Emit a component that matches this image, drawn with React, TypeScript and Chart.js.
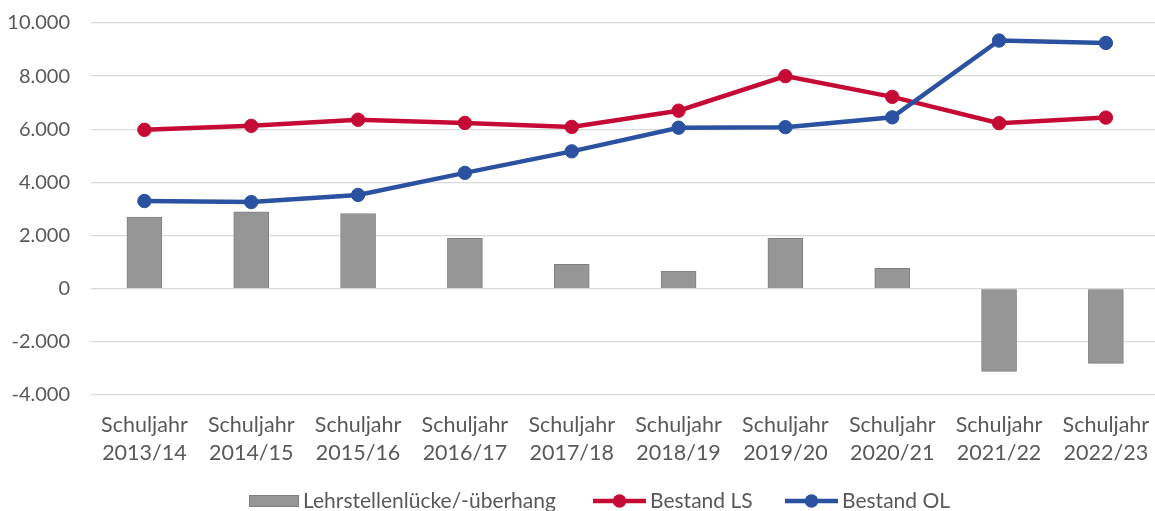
import React, { useEffect, useRef } from 'react';
import { Chart, registerables } from 'chart.js';

Chart.register(...registerables);

const categories: string[][] = [
  ['Schuljahr', '2013/14'],
  ['Schuljahr', '2014/15'],
  ['Schuljahr', '2015/16'],
  ['Schuljahr', '2016/17'],
  ['Schuljahr', '2017/18'],
  ['Schuljahr', '2018/19'],
  ['Schuljahr', '2019/20'],
  ['Schuljahr', '2020/21'],
  ['Schuljahr', '2021/22'],
  ['Schuljahr', '2022/23'],
];

const gapValues = [2700, 2890, 2830, 1900, 920, 660, 1900, 770, -3110, -2810];
const lsValues = [5980, 6130, 6360, 6240, 6090, 6700, 8000, 7220, 6230, 6440];
const olValues = [3300, 3260, 3530, 4360, 5170, 6060, 6080, 6450, 9340, 9250];

const seriesNames = ['Lehrstellenlücke/-überhang', 'Bestand LS', 'Bestand OL'];

const yMin = -4000;
const yMax = 10000;
const yStep = 2000;

const FONT = 'Lato, "Open Sans", sans-serif';
const TEXT = '#595959';
const GRID = '#d9d9d9';
const RED = '#c50b35';
const BLUE = '#2b52a0';
const BAR = '#969696';
const BAR_BORDER = '#808080';

function fmt(v: number): string {
  const neg = v < 0;
  const s = Math.abs(Math.round(v)).toString().replace(/\B(?=(\d{3})+(?!\d))/g, '.');
  return (neg ? '-' : '') + s;
}

const legendPlugin = {
  id: 'customLegend',
  afterDraw(chart: any) {
    const ctx = chart.ctx as CanvasRenderingContext2D;
    const cy = 501;
    ctx.save();
    ctx.font = `21px ${FONT}`;
    ctx.textBaseline = 'middle';
    ctx.textAlign = 'left';

    // bar entry
    ctx.fillStyle = BAR;
    ctx.fillRect(249, 495, 50, 12);
    ctx.strokeStyle = BAR_BORDER;
    ctx.lineWidth = 1;
    ctx.strokeRect(249.5, 495.5, 49, 11);
    ctx.fillStyle = TEXT;
    ctx.fillText(seriesNames[0], 303, cy);

    const lineEntry = (x: number, color: string, label: string) => {
      ctx.strokeStyle = color;
      ctx.lineWidth = 4.5;
      ctx.beginPath();
      ctx.moveTo(x, cy);
      ctx.lineTo(x + 53, cy);
      ctx.stroke();
      ctx.fillStyle = color;
      ctx.beginPath();
      ctx.arc(x + 26.5, cy, 6.7, 0, Math.PI * 2);
      ctx.fill();
      ctx.fillStyle = TEXT;
      ctx.fillText(label, x + 57, cy);
    };
    lineEntry(593, RED, seriesNames[1]);
    lineEntry(785, BLUE, seriesNames[2]);
    ctx.restore();
  },
};

export default function App() {
  const ref = useRef<HTMLCanvasElement>(null);

  useEffect(() => {
    if (!ref.current) return;
    const chart = new Chart(ref.current, {
      type: 'bar',
      data: {
        labels: categories,
        datasets: [
          {
            type: 'line',
            label: seriesNames[2],
            data: olValues,
            borderColor: BLUE,
            backgroundColor: BLUE,
            borderWidth: 4.5,
            pointRadius: 6.7,
            pointBackgroundColor: BLUE,
            pointBorderColor: BLUE,
            pointBorderWidth: 1,
            tension: 0,
            order: 0,
          },
          {
            type: 'line',
            label: seriesNames[1],
            data: lsValues,
            borderColor: RED,
            backgroundColor: RED,
            borderWidth: 4.5,
            pointRadius: 6.7,
            pointBackgroundColor: RED,
            pointBorderColor: RED,
            pointBorderWidth: 1,
            tension: 0,
            order: 1,
          },
          {
            type: 'bar',
            label: seriesNames[0],
            data: gapValues,
            backgroundColor: BAR,
            borderColor: BAR_BORDER,
            borderWidth: 1,
            barThickness: 35,
            order: 2,
          },
        ],
      } as any,
      options: {
        responsive: false,
        animation: false,
        devicePixelRatio: 1,
        layout: { padding: { top: 23, left: 0, right: 0, bottom: 0 } },
        plugins: {
          legend: { display: false },
          tooltip: { enabled: false },
        },
        scales: {
          x: {
            offset: true,
            grid: { display: false, drawTicks: false },
            border: { display: false },
            ticks: {
              color: TEXT,
              font: { family: FONT, size: 21.5, lineHeight: 1.3 },
              padding: 16,
              maxRotation: 0,
              autoSkip: false,
            },
            afterFit(scale: any) {
              scale.height = 116;
            },
          },
          y: {
            min: yMin,
            max: yMax,
            grid: { color: GRID, lineWidth: 1.3, drawTicks: false },
            border: { display: false },
            ticks: {
              stepSize: yStep,
              color: TEXT,
              font: { family: FONT, size: 20 },
              padding: 21,
              callback: (v: any) => fmt(Number(v)),
            },
            afterFit(scale: any) {
              scale.width = 91;
              scale.paddingTop = 0;
              scale.paddingBottom = 0;
            },
          },
        },
      } as any,
      plugins: [legendPlugin],
    });
    return () => chart.destroy();
  }, []);

  return (
    <div
      style={{
        position: 'absolute',
        left: 0,
        top: 0,
        width: 1155,
        height: 511,
        overflow: 'hidden',
        background: '#fff',
      }}
    >
      <canvas ref={ref} width={1167} height={511} style={{ display: 'block' }} />
    </div>
  );
}
